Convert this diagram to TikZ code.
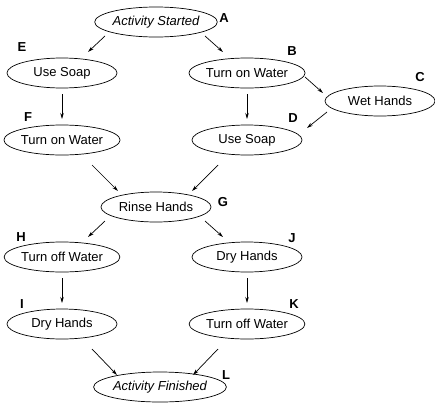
\documentclass[tikz,border=0pt]{standalone}
\usepackage{fontspec}
\setmainfont{Liberation Sans}
\usetikzlibrary{arrows.meta, calc, shapes.geometric}

\begin{document}
\begin{tikzpicture}[
    x=1pt, y=-1pt,
    state/.style={ellipse, draw, line width=0.7pt, minimum width=110pt, minimum height=30pt, inner sep=0pt, font=\fontsize{13}{15}\selectfont},
    endstate/.style={state, font=\fontsize{13}{15}\selectfont\itshape},
    tag/.style={font=\fontsize{13}{15}\selectfont\bfseries},
    arr/.style={-{Stealth[length=6pt, width=3.5pt]}, line width=0.7pt},
]
\useasboundingbox (0,0) rectangle (435,407);

% --- States ---
\node[endstate] (A) at (156,22) {Activity Started};
\node[state] (E) at (62,73) {Use Soap};
\node[state] (B) at (247,73) {Turn on Water};
\node[state] (C) at (380,101) {Wet Hands};
\node[state] (F) at (62,140) {Turn on Water};
\node[state] (D) at (247,140) {Use Soap};
\node[state] (G) at (156,207) {Rinse Hands};
\node[state] (H) at (62,257) {Turn off Water};
\node[state] (J) at (247,257) {Dry Hands};
\node[state] (I) at (62,324) {Dry Hands};
\node[state] (K) at (247,324) {Turn off Water};
\node[endstate] (L) at (160,387) {Activity Finished};

% --- Tags ---
\node[tag] (tA) at (224,18) {A};
\node[tag] (tE) at (22,47) {E};
\node[tag] (tB) at (292,51) {B};
\node[tag] (tC) at (420,77) {C};
\node[tag] (tF) at (28,117) {F};
\node[tag] (tD) at (293,118) {D};
\node[tag] (tG) at (223,202) {G};
\node[tag] (tH) at (21,237) {H};
\node[tag] (tJ) at (292,238) {J};
\node[tag] (tI) at (22,304) {I};
\node[tag] (tK) at (294,304) {K};
\node[tag] (tL) at (226,375) {L};

% --- Arrows ---
\draw[arr] ($(A)+(-51,14)$) -- ($(E)+(26,-21)$);
\draw[arr] ($(A)+(49,14)$) -- ($(B)+(-24,-21)$);
\draw[arr] ($(B)+(58,4)$) -- ($(C)+(-57,-8)$);
\draw[arr] ($(C)+(-53,11)$) -- ($(D)+(60,-12)$);
\draw[arr] ($(E)+(0,21)$) -- ($(F)+(0,-21)$);
\draw[arr] ($(B)+(0,21)$) -- ($(D)+(0,-21)$);
\draw[arr] ($(F)+(30,25)$) -- ($(G)+(-38,-16)$);
\draw[arr] ($(D)+(-29,25)$) -- ($(G)+(36,-16)$);
\draw[arr] ($(G)+(-51,14)$) -- ($(H)+(26,-20)$);
\draw[arr] ($(G)+(49,14)$) -- ($(J)+(-24,-20)$);
\draw[arr] ($(H)+(0,21)$) -- ($(I)+(0,-21)$);
\draw[arr] ($(J)+(0,21)$) -- ($(K)+(0,-21)$);
\draw[arr] ($(I)+(30,25)$) -- ($(L)+(-43,-12)$);
\draw[arr] ($(K)+(-29,25)$) -- ($(L)+(33,-12)$);
\end{tikzpicture}
\end{document}
